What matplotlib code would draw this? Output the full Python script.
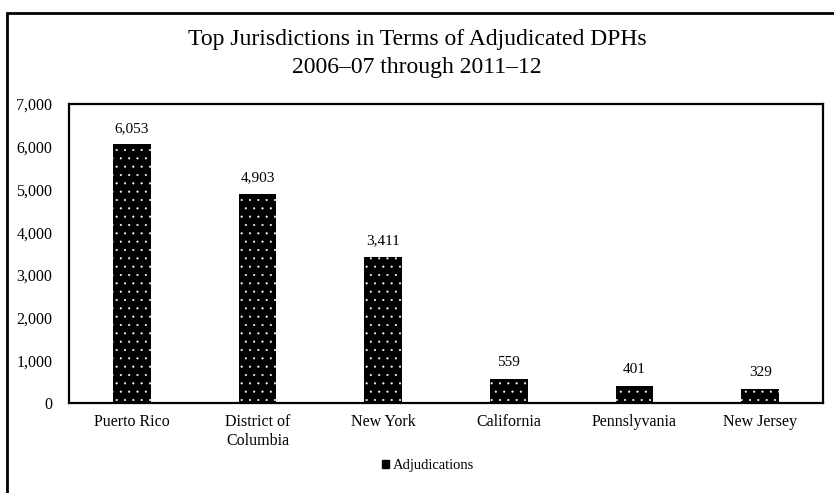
import matplotlib
matplotlib.use("Agg")
import matplotlib.pyplot as plt
from matplotlib.patches import Rectangle, Patch
from matplotlib.ticker import FuncFormatter

# Data
categories = ["Puerto Rico", "District of\nColumbia", "New York", "California",
              "Pennslyvania", "New Jersey"]
adjudications = [6053, 4903, 3411, 559, 401, 329]
y_ticks = [0, 1000, 2000, 3000, 4000, 5000, 6000, 7000]
title_lines = ["Top Jurisdictions in Terms of Adjudicated DPHs",
               "2006\u201307 through 2011\u201312"]
series_name = "Adjudications"

plt.rcParams["font.family"] = ["Liberation Serif", "DejaVu Serif"]
plt.rcParams["hatch.linewidth"] = 0.3

fig = plt.figure(figsize=(8.34, 4.93), dpi=100)
W, H = 834, 493

# Outer frame around the whole chart
fig.patches.append(Rectangle((7 / W, -0.05), 1.0, (H - 13) / H + 0.05,
                             transform=fig.transFigure, fill=False,
                             edgecolor="black", linewidth=2.0))

ax = fig.add_axes([69 / W, (H - 403) / H, (823 - 69) / W, (403 - 104) / H])

x = range(len(categories))
bars = ax.bar(x, adjudications, width=0.3, color="black", edgecolor="white",
              linewidth=0, hatch="..", label=series_name)

for rect, val in zip(bars, adjudications):
    ax.annotate(f"{val:,}", (rect.get_x() + rect.get_width() / 2, val),
                xytext=(0, 7), textcoords="offset points",
                ha="center", va="bottom", fontsize=11)

ax.set_xlim(-0.5, len(categories) - 0.5)
ax.set_ylim(0, 7000)
ax.set_yticks(y_ticks)
ax.yaxis.set_major_formatter(FuncFormatter(lambda v, p: f"{int(v):,}"))
ax.set_xticks(list(x))
ax.set_xticklabels(categories, fontsize=11.5, linespacing=1.2)
ax.tick_params(axis="y", length=0, pad=12, labelsize=11.5)
ax.tick_params(axis="x", length=0, pad=8)

for s in ax.spines.values():
    s.set_linewidth(1.6)
    s.set_color("black")

fig.text(0.5, (H - 40) / H, title_lines[0], ha="center", va="center", fontsize=17)
fig.text(0.5, (H - 67) / H, title_lines[1], ha="center", va="center", fontsize=17)

legend_handle = Patch(facecolor="black", edgecolor="black")
fig.legend(handles=[legend_handle], labels=[series_name], loc="center",
           bbox_to_anchor=(428 / W, (H - 466) / H), frameon=False,
           fontsize=10.5, handlelength=0.5, handleheight=0.5,
           handletextpad=0.3)

fig.savefig("out.png", dpi=100)
